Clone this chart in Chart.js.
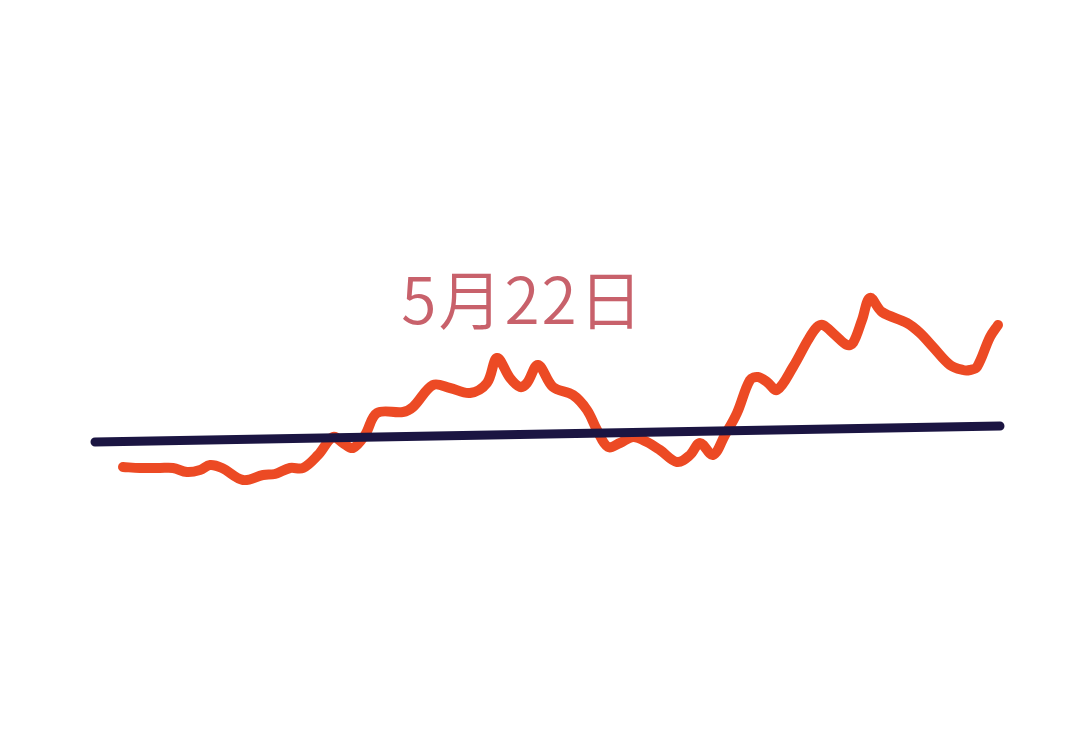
<!DOCTYPE html>
<html>
<head>
<meta charset="utf-8">
<script src="https://cdn.jsdelivr.net/npm/chart.js@4/dist/chart.umd.min.js"></script>
<style>
  html, body { margin: 0; padding: 0; background: #ffffff; }
  #wrap { width: 1080px; height: 747px; }
</style>
</head>
<body>
<div id="wrap"><canvas id="trendChart" width="1080" height="747"></canvas></div>
<script>
// price trace (x = time units, y = level)
const priceX = [2.8, 4.5, 6.5, 7.8, 9.2, 10.5, 11.5, 12.7, 14.8, 16.8, 18.0, 19.5, 20.8, 22.3, 23.8, 24.8, 25.8,
    27.0, 28.2, 30.8, 31.8, 33.8, 35.5, 37.5, 39.2, 40.2, 41.5, 42.5, 43.2, 44.3, 45.8, 47.8, 49.2, 50.2,
    51.3, 52.5, 53.8, 55.2, 56.5, 58.2, 59.5, 60.5, 61.8, 63.0, 64.2, 65.5, 66.3, 67.2, 68.2, 69.8, 71.3,
    72.2, 72.8, 74.0, 75.2, 75.8, 76.7, 77.5, 78.7, 81.2, 82.5, 83.8, 85.5, 86.8, 87.5, 88.2, 89.5, 90.3];
const priceY = [3.3, 3.2, 3.2, 3.2, 2.8, 3.0, 3.5, 3.2, 2.0, 2.5, 2.6, 3.2, 3.2, 4.5, 6.3, 5.7, 5.2,
    6.5, 8.7, 8.8, 9.3, 11.5, 11.2, 10.7, 11.7, 14.2, 12.2, 11.3, 11.7, 13.5, 11.3, 10.5, 9.0, 7.0,
    5.3, 5.7, 6.3, 5.8, 5.0, 3.8, 4.5, 5.7, 4.5, 6.5, 8.7, 12.0, 12.3, 11.8, 11.0, 13.3, 16.0,
    17.3, 17.5, 16.5, 15.5, 15.7, 18.0, 20.2, 18.8, 17.7, 16.7, 15.3, 13.5, 13.0, 13.0, 13.3, 16.3, 17.5];

// straight reference line
const baseX = [0, 90.5];
const baseY = [5.8, 7.4];

const labelText = '5月22日';
const labelPos = { x: 42.8, y: 20 };

const toPoints = (xs, ys) => xs.map((x, i) => ({ x: x, y: ys[i] }));

const labelPlugin = {
    id: 'dateLabel',
    afterDatasetsDraw(chart) {
        const ctx = chart.ctx;
        const px = chart.scales.x.getPixelForValue(labelPos.x);
        const py = chart.scales.y.getPixelForValue(labelPos.y);
        ctx.save();
        ctx.font = '350 64px "Noto Sans CJK SC", "Noto Sans", sans-serif';
        ctx.letterSpacing = '2px';
        ctx.fillStyle = '#c8616b';
        ctx.textAlign = 'center';
        ctx.textBaseline = 'middle';
        ctx.fillText(labelText, px, py);
        ctx.restore();
    }
};

const ctx = document.getElementById('trendChart').getContext('2d');
new Chart(ctx, {
    type: 'line',
    data: {
        datasets: [{
            label: '基准线',
            data: toPoints(baseX, baseY),
            borderColor: '#1b1542',
            borderWidth: 9,
            borderCapStyle: 'round',
            pointRadius: 0,
            tension: 0
        }, {
            label: '走势',
            data: toPoints(priceX, priceY),
            borderColor: '#ec4a24',
            borderWidth: 10,
            borderCapStyle: 'round',
            borderJoinStyle: 'round',
            pointRadius: 0,
            tension: 0.35
        }]
    },
    options: {
        responsive: false,
        animation: false,
        devicePixelRatio: 1,
        layout: { padding: 0 },
        plugins: {
            legend: { display: false },
            tooltip: { enabled: false }
        },
        scales: {
            x: { type: 'linear', display: false, min: -9.5, max: 98.5 },
            y: { type: 'linear', display: false, min: -24.7, max: 50 }
        }
    },
    plugins: [labelPlugin]
});
</script>
</body>
</html>
